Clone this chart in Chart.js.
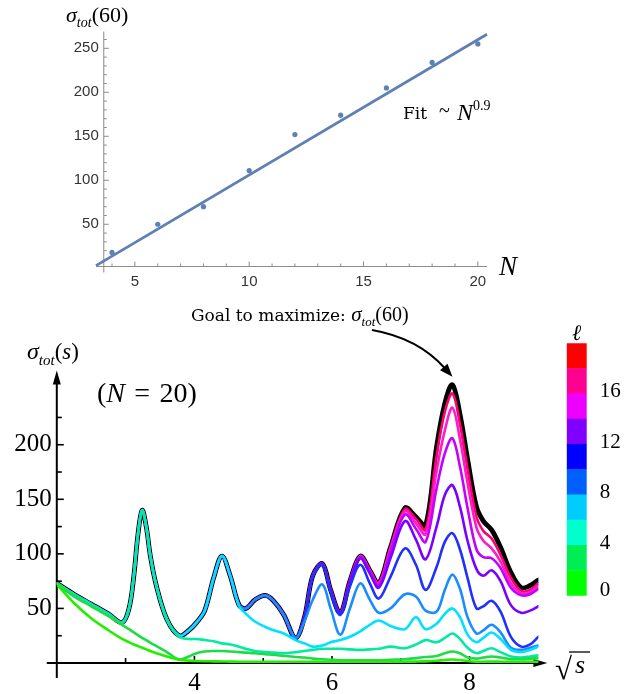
<!DOCTYPE html>
<html lang="en">
<head>
<meta charset="UTF-8">
<title>sigma_tot</title>
<script src="https://cdn.jsdelivr.net/npm/chart.js@4.4.0/dist/chart.umd.min.js"></script>
<style>
  body { margin: 0; background: #fff; }
  #wrap { position: relative; width: 632px; height: 694px; overflow: hidden; }
  canvas { position: absolute; }
</style>
</head>
<body>
<div id="wrap">
  <canvas id="fitChart" style="left:0;top:0" width="632" height="300"></canvas>
  <canvas id="sigmaChart" style="left:0;top:300px" width="632" height="394"></canvas>
  <canvas id="ellBar" style="left:560px;top:315px" width="72" height="295"></canvas>
</div>

<script>
// top panel: sigma_tot(60) for each N, with the power fit
const Ns = [4, 6, 8, 10, 12, 14, 16, 18, 20];
const sigma60 = [18, 50, 70, 111, 152, 174, 205, 234, 255];
const fitN = [3.3, 20.4];
const fitSigma = [3, 266];
const nTicks = [5, 10, 15, 20];
const sigma60Ticks = [50, 100, 150, 200, 250];

// bottom panel: sigma_tot(s) for N = 20, partial sums up to l
const sqrtS = [
  2.0, 2.25, 2.5, 2.75, 2.95, 3.05, 3.12, 3.18, 3.24, 3.3,
  3.36, 3.45, 3.6, 3.78, 3.92, 4.03, 4.15, 4.28, 4.4, 4.52,
  4.65, 4.75, 4.88, 5.03, 5.15, 5.3, 5.47, 5.6, 5.72, 5.86,
  5.98, 6.12, 6.26, 6.41, 6.55, 6.68, 6.85, 7.06, 7.22, 7.36,
  7.52, 7.64, 7.75, 7.86, 7.97, 8.1, 8.2, 8.32, 8.45, 8.6,
  8.75, 8.88, 9.0];
const sigmaTotal = [
  73, 63, 54, 45, 37, 50, 80, 118, 140, 125,
  98, 70, 40, 25, 30, 37, 48, 78, 98, 80,
  53, 50, 58, 62, 57, 44, 23, 42, 80, 91,
  67, 46, 75, 98, 85, 73, 106, 142, 134, 126,
  198, 238, 255, 228, 187, 143, 130, 122, 106, 83,
  69, 71, 76];
const sigmaL18 = [
  73, 63, 54, 45, 37, 50, 80, 118, 140, 125,
  98, 70, 40, 25, 30, 37, 48, 78, 98, 80,
  53, 50, 58, 62, 57, 44, 23, 42, 80, 91,
  67, 46, 75, 98, 85, 73, 106, 141, 132, 122,
  190, 230, 247, 219, 178, 134, 121, 114, 99, 78,
  66, 67, 73];
const sigmaL16 = [
  73, 63, 54, 45, 37, 50, 80, 118, 140, 125,
  98, 70, 40, 25, 30, 37, 48, 78, 98, 80,
  53, 50, 58, 62, 57, 44, 23, 42, 80, 91,
  67, 46, 75, 98, 85, 73, 105, 139, 128, 118,
  176, 213, 234, 205, 165, 124, 112, 105, 93, 73,
  64, 65, 71];
const sigmaL14 = [
  73, 63, 54, 45, 37, 50, 80, 118, 140, 125,
  98, 70, 40, 25, 30, 37, 48, 78, 98, 80,
  53, 50, 58, 62, 57, 44, 23, 42, 80, 91,
  67, 46, 75, 97, 84, 71, 102, 136, 123, 111,
  160, 192, 206, 180, 142, 104, 97, 96, 87, 69,
  62, 63, 68];
const sigmaL12 = [
  73, 63, 54, 45, 37, 50, 80, 118, 140, 125,
  98, 70, 40, 25, 30, 37, 48, 78, 98, 80,
  53, 50, 58, 62, 57, 44, 23, 42, 80, 91,
  67, 46, 74, 96, 82, 69, 96, 130, 113, 95,
  125, 154, 163, 143, 112, 86, 80, 85, 75, 53,
  46, 48, 52];
const sigmaL10 = [
  73, 63, 54, 45, 37, 50, 80, 118, 140, 125,
  98, 70, 40, 25, 30, 37, 48, 78, 98, 80,
  53, 50, 58, 62, 57, 44, 23, 42, 79, 90,
  65, 44, 70, 90, 73, 59, 79, 105, 90, 67,
  88, 111, 119, 104, 78, 50, 52, 57, 47, 24,
  15, 17, 24];
const sigmaL8 = [
  73, 63, 54, 45, 37, 50, 80, 118, 140, 125,
  98, 70, 40, 25, 30, 37, 48, 78, 98, 80,
  53, 50, 58, 62, 57, 44, 23, 38, 58, 72,
  50, 26, 50, 73, 58, 46, 50, 63, 61, 48,
  47, 67, 81, 68, 42, 27, 30, 35, 28, 14,
  12, 14, 16];
const sigmaL6 = [
  73, 63, 54, 45, 37, 50, 80, 118, 140, 125,
  98, 70, 40, 25, 30, 37, 48, 78, 98, 80,
  52, 45, 38, 33, 30, 27, 21, 18, 15, 16,
  19, 21, 24, 29, 35, 39, 34, 31, 42, 31,
  36, 45, 50, 42, 26, 19, 23, 28, 22, 12,
  10, 12, 15];
const sigmaL4 = [
  73, 63, 54, 45, 37, 50, 80, 118, 140, 125,
  98, 70, 40, 24, 22, 22, 21, 20, 18, 17,
  15, 13, 11, 10, 9.5, 9, 10, 11, 12, 13,
  13, 13, 12.5, 12, 12.5, 13, 15, 13.5, 17, 21,
  19, 23, 27, 22, 14, 9, 11, 13.5, 10, 6,
  5, 6, 7];
const sigmaL2 = [
  73, 61, 52, 43, 35, 31, 28, 25.5, 23, 21,
  18.5, 15.5, 10, 3.2, 6, 9, 10.5, 11, 11, 10.5,
  10, 9.5, 9, 8, 7.5, 6.5, 5.5, 5, 4, 3.5,
  3, 2.5, 2.5, 2.5, 2.5, 2.5, 3, 3.5, 4.5, 5.5,
  6.5, 9, 10.5, 9, 5, 4, 5, 6, 5, 3.5,
  3.5, 4, 4.5];
const sigmaL0 = [
  72, 55, 41, 30, 22, 19, 17, 15.5, 14, 12.5,
  11, 9, 6, 3, 2.2, 1.8, 1.6, 1.5, 1.4, 1.3,
  1.2, 1.2, 1.1, 1, 1, 1, 1, 1, 1, 1,
  1, 1, 1, 1, 1, 1, 1.1, 1.2, 1.3, 1.5,
  2, 2.8, 3.2, 2.8, 1.8, 1.2, 1.2, 1.3, 1.2, 1,
  1, 1, 1];
const partialColors = ['#22ee00', '#1edc48', '#00eaa0', '#00e0ff', '#1a8cff',
                       '#2030ff', '#7a00ff', '#c400ff', '#ff1acc', '#ff0070'];
const sqrtSTicks = [4, 6, 8];
const sqrtSMinor = [3, 5, 7];
const sigmaTicks = [50, 100, 150, 200];
const sigmaMinor = [25, 75, 125, 175, 225];

// colour key for l
const ellLevels = [0, 2, 4, 6, 8, 10, 12, 14, 16, 18];
const ellColors = ['#00ff00', '#00ee55', '#00ffcc', '#00ccff', '#0060ff',
                   '#0000ff', '#8000ff', '#ee00ff', '#ff0090', '#ff0000'];
const ellTicks = [0, 4, 8, 12, 16];

const blue = '#5e81b5';
const serif = '"Liberation Serif", "Times New Roman", serif';
const slab = '"DejaVu Serif", serif';
const sans = '"Liberation Sans", Arial, sans-serif';

function seg(ctx, x1, y1, x2, y2) {
  ctx.beginPath();
  ctx.moveTo(x1, y1);
  ctx.lineTo(x2, y2);
  ctx.stroke();
}

function arrowHead(ctx, tx, ty, dx, dy, len, half) {
  const bx = tx - dx * len, by = ty - dy * len;
  ctx.beginPath();
  ctx.moveTo(tx, ty);
  ctx.lineTo(bx - dy * half, by + dx * half);
  ctx.lineTo(bx + dy * half, by - dx * half);
  ctx.closePath();
  ctx.fill();
}

// writes pieces of text one after another: [text, font, dy]
function rich(ctx, x, y, parts) {
  for (const [text, font, dy] of parts) {
    ctx.font = font;
    ctx.fillText(text, x, y + (dy || 0));
    x += ctx.measureText(text).width;
  }
  return x;
}

const fitAxes = {
  id: 'fitAxes',
  beforeDatasetsDraw(chart) {
    const { ctx, chartArea: a, scales: { x, y } } = chart;
    const ax = x.getPixelForValue(3.64), ay = a.bottom;
    ctx.save();
    ctx.strokeStyle = '#8c8c8c';
    ctx.lineWidth = 1;
    seg(ctx, a.left, ay, a.right, ay);
    seg(ctx, ax, ay + 6, ax, a.top);
    for (let n = 4; n <= 20; n++) {
      const px = x.getPixelForValue(n);
      seg(ctx, px, ay, px, ay - (nTicks.includes(n) ? 5 : 3));
    }
    for (let v = 10; v <= 260; v += 10) {
      const py = y.getPixelForValue(v);
      seg(ctx, ax, py, ax + (sigma60Ticks.includes(v) ? 5 : 3), py);
    }
    ctx.fillStyle = '#333';
    ctx.font = '15px ' + sans;
    ctx.textAlign = 'center';
    ctx.textBaseline = 'middle';
    nTicks.forEach(n => ctx.fillText(String(n), x.getPixelForValue(n), ay + 15));
    ctx.textAlign = 'right';
    sigma60Ticks.forEach(v => ctx.fillText(String(v), ax - 5, y.getPixelForValue(v)));
    ctx.restore();
  },
  afterDraw(chart) {
    const ctx = chart.ctx;
    ctx.save();
    ctx.fillStyle = '#000';
    ctx.textAlign = 'left';
    ctx.textBaseline = 'alphabetic';
    rich(ctx, 66, 22, [['σ', 'italic 22px ' + serif], ['tot', 'italic 14px ' + serif, 5], ['(60)', '22px ' + serif]]);
    ctx.font = 'italic 27px ' + serif;
    ctx.fillText('N', 499, 275);
    ctx.font = '17px ' + slab;
    ctx.fillText('Fit', 403, 119);
    ctx.font = '20px ' + serif;
    ctx.fillText('~', 439, 117);
    rich(ctx, 457, 120, [['N', 'italic 24px ' + serif], ['0.9', '14px ' + serif, -10]]);
    ctx.restore();
  }
};

new Chart(document.getElementById('fitChart'), {
  type: 'scatter',
  data: {
    datasets: [
      {
        data: Ns.map((n, i) => ({ x: n, y: sigma60[i] })),
        backgroundColor: blue,
        pointRadius: 2.6,
        pointBorderWidth: 0
      },
      {
        type: 'line',
        data: fitN.map((n, i) => ({ x: n, y: fitSigma[i] })),
        borderColor: blue,
        borderWidth: 2.8,
        pointRadius: 0,
        clip: 4
      }
    ]
  },
  options: {
    responsive: false,
    animation: false,
    layout: { padding: { left: 96, right: 145, top: 31.6, bottom: 33.5 } },
    plugins: { legend: { display: false }, tooltip: { enabled: false } },
    scales: {
      x: { type: 'linear', min: 3.3, max: 20.4, display: false },
      y: { min: 2, max: 269, display: false }
    }
  },
  plugins: [fitAxes]
});

const sigmaAxes = {
  id: 'sigmaAxes',
  beforeDatasetsDraw(chart) {
    const { ctx, scales: { x, y } } = chart;
    const ox = x.getPixelForValue(2), oy = y.getPixelForValue(0);
    const xEnd = x.getPixelForValue(9.13), yEnd = y.getPixelForValue(268);
    ctx.save();
    ctx.strokeStyle = '#000';
    ctx.fillStyle = '#000';
    ctx.lineWidth = 2;
    seg(ctx, ox - 10, oy, xEnd - 8, oy);
    seg(ctx, ox, oy + 15, ox, yEnd + 8);
    arrowHead(ctx, xEnd, oy, 1, 0, 14, 4);
    arrowHead(ctx, ox, yEnd, 0, -1, 14, 4);
    ctx.lineWidth = 1.6;
    sqrtSTicks.forEach(v => { const px = x.getPixelForValue(v); seg(ctx, px, oy, px, oy - 7); });
    sqrtSMinor.forEach(v => { const px = x.getPixelForValue(v); seg(ctx, px, oy, px, oy - 5); });
    sigmaTicks.forEach(v => { const py = y.getPixelForValue(v); seg(ctx, ox, py, ox + 7, py); });
    sigmaMinor.forEach(v => { const py = y.getPixelForValue(v); seg(ctx, ox, py, ox + 5, py); });
    ctx.font = '25px ' + serif;
    ctx.textAlign = 'center';
    ctx.textBaseline = 'alphabetic';
    sqrtSTicks.forEach(v => ctx.fillText(String(v), x.getPixelForValue(v), oy + 27));
    ctx.textAlign = 'right';
    ctx.textBaseline = 'middle';
    sigmaTicks.forEach(v => ctx.fillText(String(v), ox - 5, y.getPixelForValue(v)));
    ctx.restore();
  },
  afterDraw(chart) {
    const { ctx, scales: { x, y } } = chart;
    ctx.save();
    ctx.fillStyle = '#000';
    ctx.strokeStyle = '#000';
    ctx.textAlign = 'left';
    ctx.textBaseline = 'alphabetic';
    // axis titles
    rich(ctx, 27, 59, [['σ', 'italic 24px ' + serif], ['tot', 'italic 15px ' + serif, 6],
                       ['(', '23px ' + serif], ['s', 'italic 23px ' + serif], [')', '23px ' + serif]]);
    rich(ctx, 97, 102, [['(', '28px ' + serif], ['N', 'italic 28px ' + serif],
                        ['\u2004=\u200420)', '28px ' + serif]]);
    ctx.font = '31px ' + serif;
    ctx.fillText('√', 555, 379);
    ctx.font = 'italic 26px ' + serif;
    ctx.fillText('s', 575, 373);
    ctx.lineWidth = 1.3;
    seg(ctx, 569, 352, 590, 352);
    // annotation on the highest peak
    rich(ctx, 191, 21, [['Goal to maximize: ', '17px ' + slab], ['σ', 'italic 21px ' + serif],
                        ['tot', 'italic 13px ' + serif, 5], ['(60)', '20px ' + serif]]);
    const peak = Math.max(...sigmaTotal);
    const peakS = sqrtS[sigmaTotal.indexOf(peak)];
    const tx = x.getPixelForValue(peakS), ty = y.getPixelForValue(peak) - 8;
    const p0 = { x: 372, y: 30 }, c = { x: 418, y: 38 };
    let dx = tx - c.x, dy = ty - c.y;
    const d = Math.hypot(dx, dy);
    dx /= d; dy /= d;
    ctx.lineWidth = 2;
    ctx.beginPath();
    ctx.moveTo(p0.x, p0.y);
    ctx.quadraticCurveTo(c.x, c.y, tx - dx * 11, ty - dy * 11);
    ctx.stroke();
    arrowHead(ctx, tx, ty, dx, dy, 13, 5);
    ctx.restore();
  }
};

const partials = [sigmaL0, sigmaL2, sigmaL4, sigmaL6, sigmaL8, sigmaL10, sigmaL12, sigmaL14, sigmaL16, sigmaL18];
// lower l drawn on top, the full sum (black) underneath everything
const sigmaDatasets = partials.map((vals, i) => ({
  data: sqrtS.map((s, j) => ({ x: s, y: vals[j] })),
  borderColor: partialColors[i],
  borderWidth: 2.6
}));
sigmaDatasets.push({
  data: sqrtS.map((s, j) => ({ x: s, y: sigmaTotal[j] })),
  borderColor: '#000',
  borderWidth: 4.8
});

new Chart(document.getElementById('sigmaChart'), {
  type: 'line',
  data: { datasets: sigmaDatasets },
  options: {
    responsive: false,
    animation: false,
    layout: { padding: { left: 56.8, right: 93.6, top: 73.8, bottom: 31 } },
    elements: {
      point: { radius: 0 },
      line: { tension: 0.35, fill: false, borderJoinStyle: 'round', borderCapStyle: 'round' }
    },
    plugins: { legend: { display: false }, tooltip: { enabled: false } },
    scales: {
      x: { type: 'linear', min: 2, max: 9, display: false },
      y: { min: 0, max: 265, display: false }
    }
  },
  plugins: [sigmaAxes]
});

const ellAxis = {
  id: 'ellAxis',
  afterDraw(chart) {
    const { ctx, chartArea: a, scales: { y } } = chart;
    ctx.save();
    ctx.fillStyle = '#000';
    ctx.font = '21px ' + serif;
    ctx.textAlign = 'left';
    ctx.textBaseline = 'middle';
    ellTicks.forEach(v => ctx.fillText(String(v), a.right + 13, y.getPixelForValue(v) - (v === 0 ? 5 : 2)));
    ctx.textAlign = 'center';
    ctx.textBaseline = 'alphabetic';
    ctx.font = 'italic 22px ' + serif;
    ctx.fillText('ℓ', (a.left + a.right) / 2, 25);
    ctx.restore();
  }
};

new Chart(document.getElementById('ellBar'), {
  type: 'bar',
  data: {
    labels: ['ℓ'],
    datasets: ellLevels.map((lv, i) => ({
      data: [[lv, lv + 2]],
      backgroundColor: ellColors[i],
      borderWidth: 0,
      grouped: false,
      barPercentage: 1,
      categoryPercentage: 1
    }))
  },
  options: {
    responsive: false,
    animation: false,
    layout: { padding: { left: 6.7, right: 45.3, top: 28.3, bottom: 14.3 } },
    plugins: { legend: { display: false }, tooltip: { enabled: false } },
    scales: {
      x: { display: false },
      y: { min: 0, max: 20, display: false }
    }
  },
  plugins: [ellAxis]
});
</script>
</body>
</html>
